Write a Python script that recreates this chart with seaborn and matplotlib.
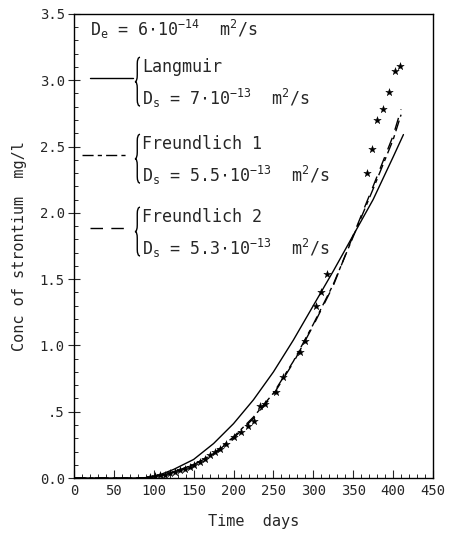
import matplotlib
matplotlib.use('Agg')
import matplotlib.pyplot as plt
import seaborn as sns
import pandas as pd
from matplotlib.lines import Line2D
from matplotlib.path import Path
from matplotlib.patches import PathPatch
from matplotlib.ticker import MultipleLocator, FuncFormatter

# measured strontium concentration
obs_days = [95, 102, 108, 114, 120, 127, 133, 139, 145, 151, 158, 164, 170, 177, 183, 191,
            200, 209, 218, 226, 233, 240, 253, 262, 283, 290, 303, 310, 317,
            367, 374, 380, 388, 395, 402, 409]
obs_conc = [0.01, 0.015, 0.02, 0.025, 0.035, 0.045, 0.06, 0.07, 0.085, 0.10, 0.12, 0.145, 0.17, 0.195, 0.22, 0.26,
            0.31, 0.35, 0.39, 0.43, 0.54, 0.56, 0.65, 0.76, 0.95, 1.03, 1.30, 1.40, 1.54,
            2.30, 2.48, 2.70, 2.78, 2.91, 3.07, 3.11]

# model curves
model_days = [0, 50, 75, 90, 100, 110, 125, 150, 175, 200, 225, 250, 275, 300, 325, 350, 375, 400]
langmuir = [0, 0, 0, 0.003, 0.01, 0.03, 0.065, 0.14, 0.26, 0.41, 0.59, 0.80, 1.04, 1.30, 1.56, 1.83, 2.10, 2.42]
freundlich1 = [0, 0, 0, 0.002, 0.008, 0.02, 0.046, 0.10, 0.185, 0.31, 0.46, 0.64, 0.88, 1.16, 1.46, 1.82, 2.18, 2.55]
freundlich2 = [0, 0, 0, 0.002, 0.008, 0.02, 0.045, 0.10, 0.18, 0.30, 0.45, 0.63, 0.87, 1.15, 1.45, 1.83, 2.20, 2.58]
end_day = [413, 410, 410]
end_conc = [2.59, 2.74, 2.78]

sns.set_style('ticks')
plt.rcParams['font.family'] = ['DejaVu Sans Mono']
plt.rcParams['mathtext.fontset'] = 'custom'
plt.rcParams['mathtext.rm'] = 'DejaVu Sans Mono'
plt.rcParams['mathtext.it'] = 'DejaVu Sans Mono'

fig = plt.figure(figsize=(4.51, 5.35), dpi=100)
ax = fig.add_axes([0.164, 0.1065, 0.796, 0.8675])

styles = [(None, langmuir), ((8, 3, 3, 3), freundlich1), ((9, 6), freundlich2)]
for i, (dash, vals) in enumerate(styles):
    df = pd.DataFrame({'day': model_days + [end_day[i]], 'conc': vals + [end_conc[i]]})
    sns.lineplot(data=df, x='day', y='conc', ax=ax, color='black', lw=1.0)
    if dash is not None:
        ax.lines[-1].set_dashes(dash)

obs = pd.DataFrame({'day': obs_days, 'conc': obs_conc})
sns.scatterplot(data=obs, x='day', y='conc', ax=ax, marker='*', color='black', s=32,
                edgecolor='black', linewidth=0.3, zorder=5)

ax.set_xlim(0, 450)
ax.set_ylim(0, 3.5)
ax.xaxis.set_major_locator(MultipleLocator(50))
ax.xaxis.set_minor_locator(MultipleLocator(10))
ax.yaxis.set_major_locator(MultipleLocator(0.5))
ax.yaxis.set_minor_locator(MultipleLocator(0.1))
ax.yaxis.set_major_formatter(FuncFormatter(lambda v, p: '.5' if abs(v - 0.5) < 1e-6 else f'{v:.1f}'))
ax.tick_params(which='major', direction='in', length=6, width=0.8, labelsize=10)
ax.tick_params(which='minor', direction='in', length=3, width=0.7)
ax.tick_params(axis='y', which='major', direction='inout', length=9, pad=2)
ax.tick_params(axis='x', pad=4)
for s in ax.spines.values():
    s.set_linewidth(1.0)
    s.set_color('black')

ax.set_xlabel('Time  days', fontsize=11, labelpad=12)
ax.set_ylabel('Conc of strontium  mg/l', fontsize=11, labelpad=9)


def brace(ax, xr, ymid, h=0.105, w=0.014):
    # left curly brace drawn as a path in axes fraction
    top, bot = ymid + h / 2, ymid - h / 2
    xm, xl = xr - w * 0.55, xr - w
    c = 0.014
    verts = [(xr, top), (xm, top), (xm, top - c),
             (xm, ymid + c), (xm, ymid), (xl, ymid),
             (xm, ymid), (xm, ymid - c),
             (xm, bot + c), (xm, bot), (xr, bot)]
    codes = [Path.MOVETO, Path.CURVE3, Path.CURVE3,
             Path.LINETO, Path.CURVE3, Path.CURVE3,
             Path.CURVE3, Path.CURVE3,
             Path.LINETO, Path.CURVE3, Path.CURVE3]
    ax.add_patch(PathPatch(Path(verts, codes), transform=ax.transAxes, fill=False,
                           lw=1.0, edgecolor='black'))


# legend block
ax.text(0.045, 0.966, r'D$_{\rm e}$ = 6$\cdot$10$^{-14}$  m$^2$/s', transform=ax.transAxes,
        fontsize=12, va='center')
entries = [
    (0.862, None, 'Langmuir', r'D$_{\rm s}$ = 7$\cdot$10$^{-13}$  m$^2$/s', 0.045, 0.165),
    (0.696, (8, 3, 3, 3), 'Freundlich 1', r'D$_{\rm s}$ = 5.5$\cdot$10$^{-13}$  m$^2$/s', 0.022, 0.152),
    (0.539, (9, 6), 'Freundlich 2', r'D$_{\rm s}$ = 5.3$\cdot$10$^{-13}$  m$^2$/s', 0.045, 0.152),
]
for yc, dash, name, ds, x0, x1 in entries:
    ln = Line2D([x0, x1], [yc, yc], transform=ax.transAxes, color='black', lw=1.0)
    if dash is not None:
        ln.set_dashes(dash)
    ax.add_line(ln)
    brace(ax, 0.184, yc - 0.008)
    ax.text(0.19, yc + 0.024, name, transform=ax.transAxes, fontsize=12, va='center')
    ax.text(0.19, yc - 0.045, ds, transform=ax.transAxes, fontsize=12, va='center')

fig.savefig('out.png', dpi=100)
